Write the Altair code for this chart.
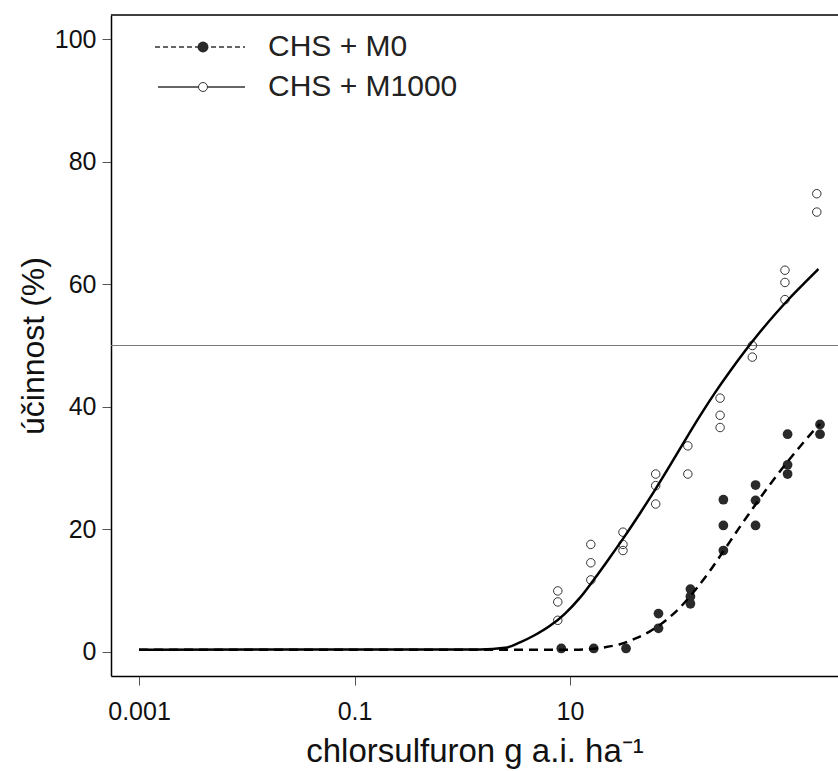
import altair as alt
import pandas as pd

m0_dose = [8.3, 16.6, 33.1,
           66.2, 66.2,
           131, 131, 131,
           265, 265, 265,
           527, 527, 527,
           1045, 1045, 1045,
           2090, 2090]
m0_eff = [0.5, 0.5, 0.5,
          6.2, 3.8,
          10.2, 9.0, 7.8,
          24.8, 20.6, 16.5,
          27.2, 24.7, 20.6,
          35.5, 30.5, 29.0,
          37.1, 35.5]

m1000_dose = [7.7, 7.7, 7.7,
              15.6, 15.6, 15.6,
              31.0, 31.0, 31.0,
              62.4, 62.4, 62.4,
              124, 124,
              247, 247, 247,
              492, 492,
              988, 988, 988,
              1950, 1950]
m1000_eff = [9.9, 8.1, 5.1,
             17.5, 14.5, 11.7,
             19.5, 17.5, 16.5,
             29.0, 27.1, 24.1,
             33.6, 29.0,
             41.4, 38.6, 36.6,
             50.0, 48.1,
             62.3, 60.3, 57.5,
             74.8, 71.8]

# ---- fitted curves (x read as log10 of dose) ----
m1000_curve_logdose = [-3.0, 0.165, 0.397, 0.536, 0.675, 0.814, 0.954, 1.093, 1.232,
                       1.371, 1.510, 1.650, 1.789, 1.928, 2.067, 2.206, 2.346, 2.485,
                       2.624, 2.763, 2.903, 3.042, 3.181, 3.305]
m1000_curve_eff = [0.3, 0.35, 0.6, 1.5, 2.7, 4.2, 6.2, 8.8, 12.0,
                   15.4, 18.9, 22.6, 26.4, 30.4, 34.5, 38.5, 42.3, 45.8,
                   49.1, 52.2, 55.1, 57.8, 60.3, 62.5]

m0_curve_logdose = [-3.0, 1.046, 1.186, 1.325, 1.464, 1.603, 1.742, 1.882, 2.021,
                    2.160, 2.299, 2.439, 2.578, 2.717, 2.856, 2.995, 3.135, 3.227, 3.320]
m0_curve_eff = [0.3, 0.3, 0.4, 0.7, 1.2, 2.1, 3.3, 5.0, 7.2,
                10.0, 13.2, 16.8, 20.4, 23.9, 27.3, 30.5, 33.5, 35.4, 37.2]

ref_level = [50]
x_ticks = [0.001, 0.1, 10]
y_ticks = [0, 20, 40, 60, 80, 100]
legend_labels = ["CHS + M0", "CHS + M1000"]

FONT = "Liberation Sans"
W, H = 727, 661

pts0 = pd.DataFrame({"dose": m0_dose, "eff": m0_eff})
pts1 = pd.DataFrame({"dose": m1000_dose, "eff": m1000_eff})
cur0 = pd.DataFrame({"dose": [10 ** v for v in m0_curve_logdose], "eff": m0_curve_eff})
cur1 = pd.DataFrame({"dose": [10 ** v for v in m1000_curve_logdose], "eff": m1000_curve_eff})
ref = pd.DataFrame({"y": ref_level})

xs = alt.Scale(type="log", domain=[10 ** -3.26, 10 ** 3.487], nice=False)
ys = alt.Scale(domain=[-4, 104], nice=False, zero=False)

xaxis = alt.Axis(values=x_ticks, format="~g", title="chlorsulfuron g a.i. ha⁻¹",
                 labelFontSize=25, titleFontSize=33, tickSize=9, labelPadding=14,
                 titlePadding=11, grid=False, labelFlush=False)
yaxis = alt.Axis(values=y_ticks, title="účinnost (%)", labelFontSize=25,
                 titleFontSize=32, tickSize=9, labelPadding=6, titlePadding=4,
                 grid=False)

X = alt.X("dose:Q", scale=xs, axis=xaxis)
Y = alt.Y("eff:Q", scale=ys, axis=yaxis)

hline = alt.Chart(ref).mark_rule(color="#7a7a7a", strokeWidth=1).encode(
    y=alt.Y("y:Q", scale=ys))

top_border = alt.Chart(ref).mark_rule(color="#000", strokeWidth=1.5).encode(
    x=alt.value(0), x2=alt.value(W), y=alt.value(0))

p0 = alt.Chart(pts0).mark_circle(size=95, color="#2a2a2a", opacity=1).encode(x=X, y=Y)
p1 = alt.Chart(pts1).mark_point(shape="circle", filled=False, size=72,
                                color="#333", strokeWidth=1, opacity=1).encode(x=X, y=Y)

l1 = alt.Chart(cur1).mark_line(color="#000", strokeWidth=2.5,
                               interpolate="monotone").encode(x=X, y=Y)
l0 = alt.Chart(cur0).mark_line(color="#000", strokeWidth=2.5, strokeDash=[9, 6],
                               interpolate="monotone").encode(x=X, y=Y)

# ---- legend (R-style, top-left inside the plot) ----
lg0 = pd.DataFrame({"label": [legend_labels[0]]})
lg1 = pd.DataFrame({"label": [legend_labels[1]]})

leg_line0 = alt.Chart(lg0).mark_rule(color="#333", strokeWidth=1.5, strokeDash=[5, 3]).encode(
    x=alt.value(44), x2=alt.value(134), y=alt.value(32))
leg_pt0 = alt.Chart(lg0).mark_circle(size=120, color="#2a2a2a", opacity=1).encode(
    x=alt.value(92), y=alt.value(32))
leg_txt0 = alt.Chart(lg0).mark_text(align="left", baseline="middle", fontSize=30,
                                    font=FONT, color="#222").encode(
    x=alt.value(157), y=alt.value(32), text="label:N")

leg_line1 = alt.Chart(lg1).mark_rule(color="#333", strokeWidth=1.5).encode(
    x=alt.value(47), x2=alt.value(134), y=alt.value(72))
leg_pt1 = alt.Chart(lg1).mark_point(shape="circle", filled=True, fill="white", size=80,
                                    stroke="#333", strokeWidth=1, opacity=1).encode(
    x=alt.value(92), y=alt.value(72))
leg_txt1 = alt.Chart(lg1).mark_text(align="left", baseline="middle", fontSize=30,
                                    font=FONT, color="#222").encode(
    x=alt.value(157), y=alt.value(72), text="label:N")

chart = alt.layer(
    hline, p0, p1, l1, l0, top_border,
    leg_line0, leg_pt0, leg_txt0, leg_line1, leg_pt1, leg_txt1
).properties(
    width=W, height=H,
    autosize=alt.AutoSizeParams(type="none"),
    padding={"left": 111, "top": 15, "right": 0, "bottom": 95},
    background="white",
).configure_view(stroke=None).configure_axis(
    labelFont=FONT, titleFont=FONT, titleFontWeight="normal",
    labelColor="#111", titleColor="#111",
    domainColor="#000", domainWidth=1.5, tickColor="#555", tickWidth=1,
)

chart.save("out.html", embed_options={"renderer": "svg", "actions": False})
